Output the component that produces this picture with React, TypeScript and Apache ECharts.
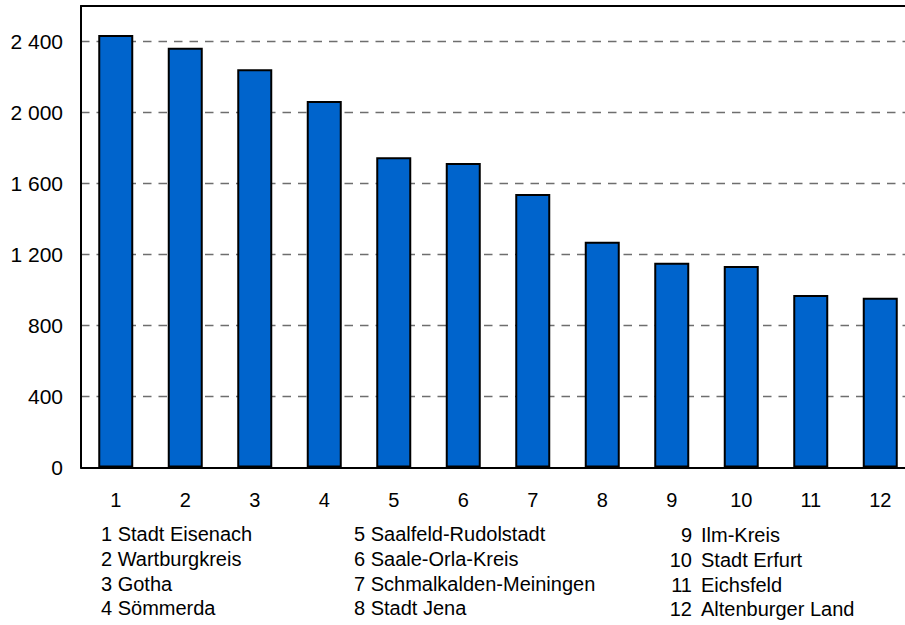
import React, { useEffect, useRef } from "react";
import * as echarts from "echarts";

const categories = ["1", "2", "3", "4", "5", "6", "7", "8", "9", "10", "11", "12"];
const values = [2437, 2365, 2243, 2065, 1748, 1715, 1541, 1272, 1154, 1135, 972, 957];
const districtNames = [
  "Stadt Eisenach",
  "Wartburgkreis",
  "Gotha",
  "Sömmerda",
  "Saalfeld-Rudolstadt",
  "Saale-Orla-Kreis",
  "Schmalkalden-Meiningen",
  "Stadt Jena",
  "Ilm-Kreis",
  "Stadt Erfurt",
  "Eichsfeld",
  "Altenburger Land",
];
const yMin = 0;
const yMax = 2600;
const yInterval = 400;

const FONT = "'Liberation Sans', Arial, sans-serif";

function fmt(v: number): string {
  return String(v).replace(/\B(?=(\d{3})+(?!\d))/g, " ");
}

export default function App() {
  const ref = useRef<HTMLDivElement>(null);
  useEffect(() => {
    if (!ref.current) return;
    const chart = echarts.init(ref.current, undefined, { renderer: "svg" });
    const legend: any[] = [];
    districtNames.forEach((name, i) => {
      const col = Math.floor(i / 4);
      const row = i % 4;
      if (col < 2) {
        legend.push({
          type: "text",
          x: col === 0 ? 101 : 354,
          y: 534 + row * 24.8,
          style: {
            text: `${i + 1} ${name}`,
            fill: "#000",
            font: `20px ${FONT}`,
            textAlign: "left",
            textVerticalAlign: "middle",
          },
        });
      } else {
        legend.push({
          type: "text",
          x: 692,
          y: 535 + row * 24.8,
          style: {
            text: `${i + 1}`,
            fill: "#000",
            font: `20px ${FONT}`,
            textAlign: "right",
            textVerticalAlign: "middle",
          },
        });
        legend.push({
          type: "text",
          x: 701,
          y: 535 + row * 24.8,
          style: {
            text: name,
            fill: "#000",
            font: `20px ${FONT}`,
            textAlign: "left",
            textVerticalAlign: "middle",
          },
        });
      }
    });
    chart.setOption({
      animation: false,
      backgroundColor: "#fff",
      grid: { left: 81, top: 6, width: 834, height: 461.5, containLabel: false },
      xAxis: [
        {
          type: "category",
          data: categories,
          axisLine: { show: true, lineStyle: { color: "#000", width: 2 } },
          axisTick: { show: false },
          axisLabel: { color: "#000", fontSize: 20, fontFamily: FONT, margin: 22 },
          splitLine: { show: false },
        },
        {
          type: "category",
          position: "top",
          data: categories,
          axisLine: { show: true, lineStyle: { color: "#000", width: 2 } },
          axisTick: { show: false },
          axisLabel: { show: false },
          splitLine: { show: false },
        },
      ],
      yAxis: {
        type: "value",
        min: yMin,
        max: yMax,
        interval: yInterval,
        axisLine: { show: true, lineStyle: { color: "#000", width: 2 } },
        axisTick: { show: false },
        axisLabel: {
          color: "#000",
          fontSize: 21,
          fontFamily: FONT,
          margin: 18,
          formatter: (v: number) => (v > 2400 ? "" : fmt(v)),
        },
        splitLine: {
          show: true,
          showMinLine: false,
          showMaxLine: false,
          lineStyle: { color: "#6e6e6e", width: 1.3, type: [8.5, 7] },
        },
      },
      series: [
        {
          type: "bar",
          data: values,
          barWidth: 35,
          itemStyle: { color: "#0064cc", borderColor: "#000", borderWidth: 2 },
        },
      ],
      graphic: legend,
    });
    return () => chart.dispose();
  }, []);
  return (
    <div
      style={{
        position: "fixed",
        left: 0,
        top: 0,
        width: 905,
        height: 625,
        overflow: "hidden",
        background: "#fff",
      }}
    >
      <div ref={ref} style={{ width: 930, height: 625 }} />
    </div>
  );
}
